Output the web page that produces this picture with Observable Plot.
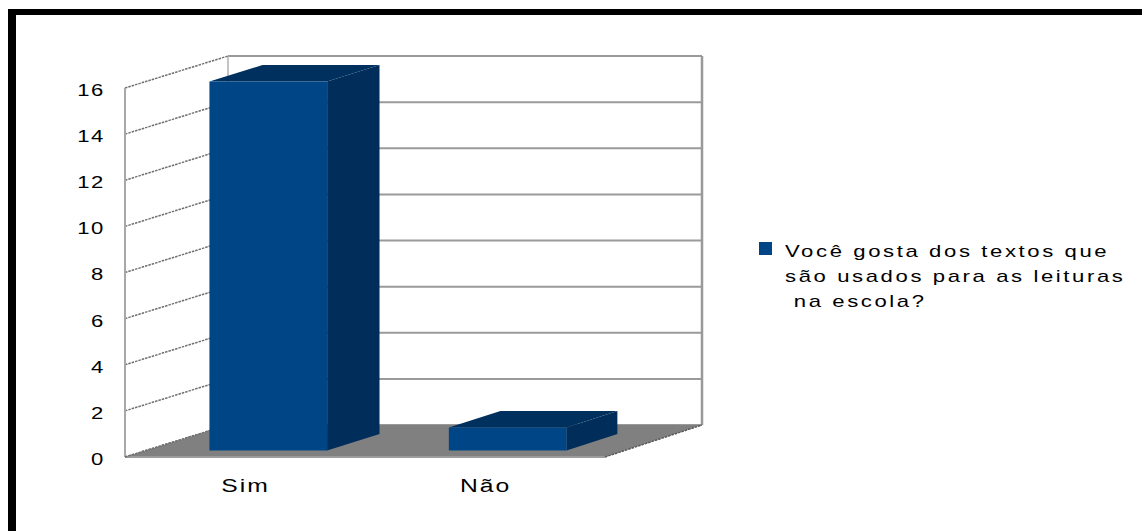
<!DOCTYPE html>
<html>
<head>
<meta charset="utf-8">
<script src="https://cdn.jsdelivr.net/npm/d3@7"></script>
<script src="https://cdn.jsdelivr.net/npm/@observablehq/plot@0.6"></script>
<style>
  html, body { margin: 0; padding: 0; background: #fff; }
  #wrap { position: relative; width: 1142px; height: 531px; overflow: hidden; background: #fff; }
  #wrap svg { position: absolute; left: 0; top: 0; }
  #frame { position: absolute; left: 8px; top: 9px; right: -20px; bottom: -20px;
           border-top: 6px solid #000; border-left: 8px solid #000; }
  g[aria-label="y-axis tick label"] { font-size: 17px; letter-spacing: 1px; }
  g[aria-label="x-axis tick label"] { font-size: 19px; letter-spacing: 1.5px; }
  #legend-swatch { position: absolute; left: 759px; top: 242px; width: 13px; height: 13px; background: #004586; }
  #legend-text { position: absolute; left: 785px; top: 239px; font-family: "Liberation Sans", Arial, sans-serif;
                 font-size: 17px; line-height: 25px; letter-spacing: 2px; white-space: pre; color: #000;
                 transform: scaleX(1.3); transform-origin: 0 0; }
</style>
</head>
<body>
<div id="wrap">
  <div id="frame"></div>
  <div id="legend-swatch"></div>
  <div id="legend-text"></div>
</div>
<script>
// ---- data ----
const categories = ["Sim", "Não"];
const values = [16, 1];
const yTicks = [0, 2, 4, 6, 8, 10, 12, 14, 16];
const yMax = 16;
const legendLines = ["Você gosta dos textos que", "são usados para as leituras", " na escola?"];

// ---- 3D look (pixels) ----
const DX_L = 103, DX_R = 97, DY = -32;   // floor depth offsets at left / right
const Z_FRONT = 0.2, Z_BACK = 0.72;      // bar depth inside the floor
const INSET_L = 64, INSET_R = 58;        // bar inset inside its band
const COL_FRONT = "#004586", COL_SIDE = "#002d5a", COL_TOP = "#00305e";
const TEXT_STRETCH = 1.3;

function scene(index, scales) {
  const sx = scales.x, sy = scales.y;
  const bw = typeof sx.bandwidth === "function" ? sx.bandwidth() : sx.bandwidth;
  const x0 = sx(categories[0]);
  const x1 = sx(categories[categories.length - 1]) + bw;
  const P = (xf, y, z) => {
    const dx = z * (DX_L + (DX_R - DX_L) * (xf - x0) / (x1 - x0));
    return [xf + dx, y + DY * z];
  };
  const g = d3.create("svg:g");
  const path = (pts, close) => "M" + pts.map(p => p[0].toFixed(2) + "," + p[1].toFixed(2)).join("L") + (close ? "Z" : "");
  const poly = (pts, fill) => g.append("path").attr("d", path(pts, true)).attr("fill", fill);
  const seg = (a, b, stroke, w, dash) => {
    const p = g.append("path").attr("d", path([a, b], false)).attr("fill", "none")
      .attr("stroke", stroke).attr("stroke-width", w);
    if (dash) p.attr("stroke-dasharray", dash);
    return p;
  };
  const y0 = sy(0), yT = sy(yMax);

  // back wall gridlines
  for (const t of yTicks) seg(P(x0, sy(t), 1), P(x1, sy(t), 1), "#9a9a9a", 2);
  // back wall edges
  seg(P(x0, yT, 1), P(x0, y0, 1), "#b0b0b0", 1.5);
  seg(P(x1, yT, 1), P(x1, y0, 1), "#999", 2.5);
  // left wall diagonals
  for (const t of yTicks) seg(P(x0, sy(t), 0), P(x0, sy(t), 1), "#707070", 1.5, "2.5 1");
  // left wall front edge
  seg([x0, yT], [x0, y0], "#a8a8a8", 2);
  // floor
  poly([P(x0, y0, 0), P(x1, y0, 0), P(x1, y0, 1), P(x0, y0, 1)], "#808080");
  seg(P(x0, y0, 0), P(x1, y0, 0), "#9c9c9c", 2);
  seg(P(x1, y0, 0), P(x1, y0, 1), "#5a5a5a", 1.5, "2.5 1");
  seg(P(x0, y0, 0), P(x0, y0, 1), "#707070", 1.5, "2.5 1");

  // bars
  categories.forEach((c, i) => {
    const xl = sx(c) + INSET_L, xr = sx(c) + bw - INSET_R;
    const yt = sy(values[i]), yb = sy(0);
    const fTL = P(xl, yt, Z_FRONT), fTR = P(xr, yt, Z_FRONT), fBR = P(xr, yb, Z_FRONT), fBL = P(xl, yb, Z_FRONT);
    const bTL = P(xl, yt, Z_BACK), bTR = P(xr, yt, Z_BACK), bBR = P(xr, yb, Z_BACK);
    poly([fTR, bTR, bBR, fBR], COL_SIDE);
    poly([fTL, bTL, bTR, fTR], COL_TOP);
    poly([fTL, fTR, fBR, fBL], COL_FRONT);
  });
  return g.node();
}

const chart = Plot.plot({
  width: 1142,
  height: 531,
  marginLeft: 125,
  marginRight: 537,
  marginTop: 88,
  marginBottom: 74,
  style: { fontFamily: "'Liberation Sans', Arial, sans-serif", color: "#000", background: "transparent", overflow: "visible" },
  x: { type: "band", domain: categories, padding: 0, label: null },
  y: { type: "linear", domain: [0, yMax], label: null },
  marks: [
    scene,
    Plot.axisY({ ticks: yTicks, tickSize: 0, tickPadding: 21, label: null, tickFormat: d => String(d), dy: 2 }),
    Plot.axisX({ tickSize: 0, tickPadding: 21, label: null })
  ]
});
// widen the axis glyphs like the reference
d3.select(chart).selectAll('g[aria-label="y-axis tick label"] text, g[aria-label="x-axis tick label"] text')
  .attr("transform", function () { return (this.getAttribute("transform") || "") + ` scale(${TEXT_STRETCH},1)`; });
document.getElementById("wrap").insertBefore(chart, document.getElementById("frame"));

document.getElementById("legend-text").textContent = legendLines.join("\n");
</script>
</body>
</html>
